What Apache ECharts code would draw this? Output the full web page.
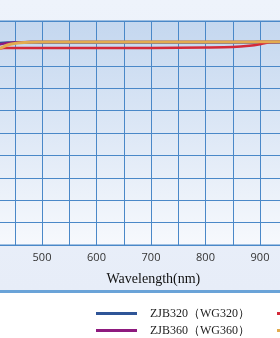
<!DOCTYPE html>
<html>
<head>
<meta charset="utf-8">
<script src="https://cdn.jsdelivr.net/npm/echarts@6/dist/echarts.min.js"></script>
<style>
  html, body { margin: 0; padding: 0; background: #fff; }
  #chart { width: 280px; height: 338px; }
</style>
</head>
<body>
<div id="chart"></div>
<script>
// 数据：波长(nm) 与各滤光片透过率(%)
var wavelengths = [400, 410, 420, 430, 440, 450, 460, 480, 500, 600, 700, 800, 850, 880, 900, 910, 920, 950];
var seriesNames = ['ZJB320（WG320）', 'ZJB360（WG360）', 'ZJB380（WG380）', 'ZJB400（GG400）'];
var zjb320 = [89.6, 89.9, 90.1, 90.3, 90.4, 90.5, 90.5, 90.6, 90.6, 90.6, 90.6, 90.6, 90.6, 90.6, 90.7, 90.7, 90.7, 90.7];
var zjb360 = [88.2, 88.9, 89.4, 89.9, 90.2, 90.4, 90.5, 90.6, 90.6, 90.6, 90.6, 90.6, 90.6, 90.6, 90.7, 90.7, 90.7, 90.7];
var zjb380 = [84.5, 86.5, 87.5, 87.9, 88.0, 88.0, 88.0, 88.0, 88.0, 88.0, 88.0, 88.2, 88.4, 88.9, 89.6, 90.2, 90.5, 90.7];
var zjb400 = [83.5, 85.8, 87.4, 88.6, 89.5, 90.0, 90.3, 90.5, 90.6, 90.6, 90.6, 90.6, 90.6, 90.6, 90.7, 90.7, 90.7, 90.7];
var xTickLabels = [500, 600, 700, 800, 900];

function pairs(vals) {
    return wavelengths.map(function (w, i) { return [w, vals[i]]; });
}

var myChart = echarts.init(document.getElementById('chart'));
var gridColor = '#4a88c8';

function lineSeries(name, data, color, width) {
    return {
        name: name,
        type: 'line',
        smooth: 0.3,
        showSymbol: false,
        data: pairs(data),
        lineStyle: { color: color, width: width },
        itemStyle: { color: color }
    };
}

var legendText = { fontFamily: 'Liberation Serif', fontSize: 12, lineHeight: 13, color: '#222', padding: [0, 0, 0, 8] };

function legendCol(left, names) {
    return {
        left: left, top: 307, height: 60, orient: 'vertical', itemGap: 4,
        padding: 0,
        itemWidth: 41, itemHeight: 3, icon: 'rect',
        textStyle: legendText,
        data: names
    };
}

var option = {
    animation: false,
    backgroundColor: {
        type: 'linear', x: 0, y: 0, x2: 0, y2: 1,
        colorStops: [
            { offset: 0, color: '#eef3fb' },
            { offset: 0.858, color: '#e7edf8' },
            { offset: 0.858, color: '#6aa3d8' },
            { offset: 0.867, color: '#6aa3d8' },
            { offset: 0.867, color: '#ffffff' },
            { offset: 1, color: '#ffffff' }
        ]
    },
    grid: {
        left: -12.5,
        right: -7.25,
        top: 21,
        bottom: 93,
        outerBoundsMode: 'none',
        containLabel: false,
        show: true,
        borderColor: gridColor,
        borderWidth: 1,
        backgroundColor: {
            type: 'linear', x: 0, y: 0, x2: 0, y2: 1,
            colorStops: [
                { offset: 0, color: '#c4d7ef' },
                { offset: 1, color: '#f7f9fd' }
            ]
        }
    },
    legend: [
        legendCol(96, [seriesNames[0], seriesNames[1]]),
        legendCol(277, [seriesNames[2], seriesNames[3]])
    ],
    xAxis: {
        type: 'value',
        min: 400,
        max: 950,
        interval: 50,
        name: 'Wavelength(nm)',
        nameLocation: 'middle',
        nameGap: 27,
        nameTextStyle: { fontFamily: 'Liberation Serif', fontSize: 14, color: '#111', padding: [0, 0, 0, 32] },
        axisLine: { show: true, lineStyle: { color: gridColor } },
        axisTick: { show: false },
        axisLabel: {
            margin: 7,
            fontFamily: 'Open Sans', fontSize: 11, color: '#333',
            formatter: function (v) { return xTickLabels.indexOf(v) >= 0 ? String(v) : ''; }
        },
        splitLine: { show: true, lineStyle: { color: gridColor, width: 1 } }
    },
    yAxis: {
        type: 'value',
        min: 0,
        max: 100,
        interval: 10,
        axisLine: { show: false },
        axisTick: { show: false },
        axisLabel: { show: false },
        splitLine: { show: true, lineStyle: { color: gridColor, width: 1 } }
    },
    series: [
        lineSeries(seriesNames[0], zjb320, '#2f5597', 2.5),
        lineSeries(seriesNames[1], zjb360, '#8e1a7e', 2.5),
        lineSeries(seriesNames[2], zjb380, '#d42a3a', 2.5),
        lineSeries(seriesNames[3], zjb400, '#e3ab50', 3)
    ]
};

myChart.setOption(option);
</script>
</body>
</html>
